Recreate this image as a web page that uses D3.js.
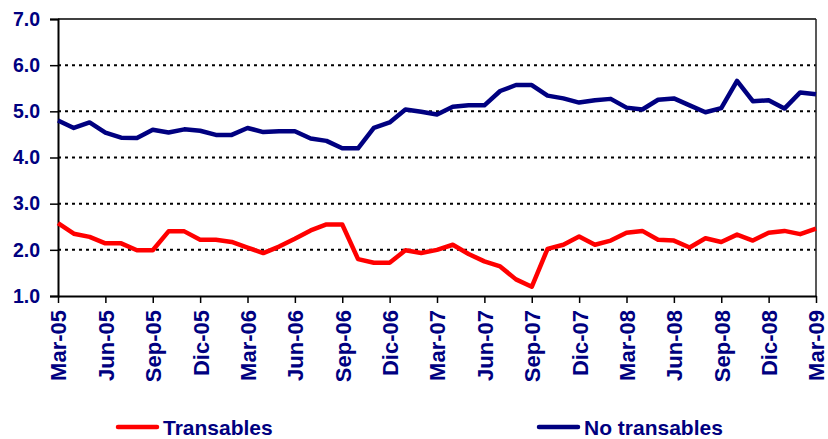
<!DOCTYPE html>
<html>
<head>
<meta charset="utf-8">
<script src="https://cdn.jsdelivr.net/npm/d3@7"></script>
<style>
  body { margin: 0; background: #fff; }
  svg { display: block; font-family: Arial, "Liberation Sans", sans-serif; font-weight: bold; }
</style>
</head>
<body>
<div class="chart"></div>
<script>
// monthly, Mar-05 .. Mar-09
var months = d3.range(49);

var tickLabels = ["Mar-05", "Jun-05", "Sep-05", "Dic-05", "Mar-06", "Jun-06", "Sep-06", "Dic-06",
  "Mar-07", "Jun-07", "Sep-07", "Dic-07", "Mar-08", "Jun-08", "Sep-08", "Dic-08", "Mar-09"];

var yTicks = [1, 2, 3, 4, 5, 6, 7];

var transables = [2.58, 2.35, 2.28, 2.14, 2.14, 1.99, 1.99, 2.40, 2.40, 2.22, 2.22, 2.17, 2.05,
  1.93, 2.07, 2.24, 2.42, 2.55, 2.55, 1.80, 1.72, 1.72, 1.99, 1.93, 2.00,
  2.11, 1.91, 1.75, 1.64, 1.36, 1.20, 2.02, 2.11, 2.29, 2.11, 2.20, 2.37,
  2.41, 2.22, 2.20, 2.05, 2.25, 2.17, 2.33, 2.20, 2.37, 2.41, 2.34, 2.46];

var noTransables = [4.80, 4.64, 4.76, 4.54, 4.43, 4.42, 4.60, 4.54, 4.61, 4.58, 4.49, 4.49, 4.64,
  4.55, 4.57, 4.57, 4.41, 4.36, 4.20, 4.20, 4.64, 4.76, 5.04, 4.99, 4.93,
  5.10, 5.13, 5.13, 5.44, 5.57, 5.57, 5.34, 5.28, 5.19, 5.24, 5.27, 5.08,
  5.04, 5.25, 5.28, 5.13, 4.98, 5.07, 5.66, 5.22, 5.24, 5.06, 5.41, 5.37];

var navy = "#000080";
var red = "#ff0000";

var svgWidth = 828, svgHeight = 439;
var margin = { top: 19, right: 12, bottom: 143, left: 58 };
var width = 816 - margin.left;
var height = 296 - margin.top;

var svg = d3.select(".chart")
  .append("svg")
  .attr("width", svgWidth)
  .attr("height", svgHeight);

var g = svg.append("g")
  .attr("transform", `translate(${margin.left}, ${margin.top})`);

var x = d3.scaleLinear()
  .domain([0, 48])
  .range([0, width]);

var y = d3.scaleLinear()
  .domain([1, 7])
  .range([height, 0]);

// dotted gridlines
g.append("g")
  .selectAll("line")
  .data(yTicks.filter(function(d) { return d > 1 && d < 7; }))
  .enter().append("line")
  .attr("x1", 0)
  .attr("x2", width)
  .attr("y1", function(d) { return y(d); })
  .attr("y2", function(d) { return y(d); })
  .attr("stroke", "#000")
  .attr("stroke-width", 2)
  .attr("stroke-dasharray", "3,4");

// frame top / right
g.append("line")
  .attr("x1", 0).attr("x2", width)
  .attr("y1", y(7)).attr("y2", y(7))
  .attr("stroke", "#000").attr("stroke-width", 1.5);
g.append("line")
  .attr("x1", width).attr("x2", width)
  .attr("y1", y(7)).attr("y2", height)
  .attr("stroke", "#222").attr("stroke-width", 1.5);

// Y axis
var yAxis = g.append("g")
  .attr("class", "y-axis")
  .call(d3.axisLeft(y).tickValues(yTicks).tickSize(8).tickPadding(10).tickFormat(d3.format(".1f")));
yAxis.select(".domain").attr("stroke", "#000").attr("stroke-width", 2);
yAxis.selectAll(".tick line").attr("stroke", "#000").attr("stroke-width", 1.5);
yAxis.selectAll("text")
  .attr("fill", navy)
  .style("font-size", "19.5px")
  .style("font-weight", "bold");

// X axis
var xAxis = g.append("g")
  .attr("class", "x-axis")
  .attr("transform", "translate(0," + height + ")")
  .call(d3.axisBottom(x)
    .tickValues(d3.range(0, 49, 3))
    .tickSize(7)
    .tickSizeOuter(0)
    .tickFormat(function(d, i) { return tickLabels[i]; }));
xAxis.select(".domain").attr("stroke", "#000").attr("stroke-width", 2);
xAxis.selectAll(".tick line").attr("stroke", "#000").attr("stroke-width", 1.5);
xAxis.selectAll("text")
  .attr("fill", navy)
  .style("font-size", "22px")
  .style("font-weight", "bold")
  .attr("text-anchor", "end")
  .attr("transform", "rotate(-90)")
  .attr("x", -14)
  .attr("y", 0)
  .attr("dy", "0.36em");

// lines
var line = function(values) {
  return d3.line()
    .x(function(d) { return x(d); })
    .y(function(d) { return y(values[d]); })(months);
};

g.append("path")
  .attr("d", line(noTransables))
  .attr("fill", "none")
  .attr("stroke", navy)
  .attr("stroke-width", 4.5)
  .attr("stroke-linejoin", "round");

g.append("path")
  .attr("d", line(transables))
  .attr("fill", "none")
  .attr("stroke", red)
  .attr("stroke-width", 4.5)
  .attr("stroke-linejoin", "round");

// legend
var legend = [
  { name: "Transables", color: red, x: 118 },
  { name: "No transables", color: navy, x: 539 }
];
var lg = svg.append("g").selectAll("g")
  .data(legend)
  .enter().append("g")
  .attr("transform", function(d) { return `translate(${d.x}, 427)`; });
lg.append("line")
  .attr("x1", 0).attr("x2", 39)
  .attr("stroke", function(d) { return d.color; })
  .attr("stroke-width", 4.5)
  .attr("stroke-linecap", "round");
lg.append("text")
  .attr("x", 45)
  .attr("dy", "0.36em")
  .attr("fill", navy)
  .style("font-size", "21px")
  .text(function(d) { return d.name; });
</script>
</body>
</html>
